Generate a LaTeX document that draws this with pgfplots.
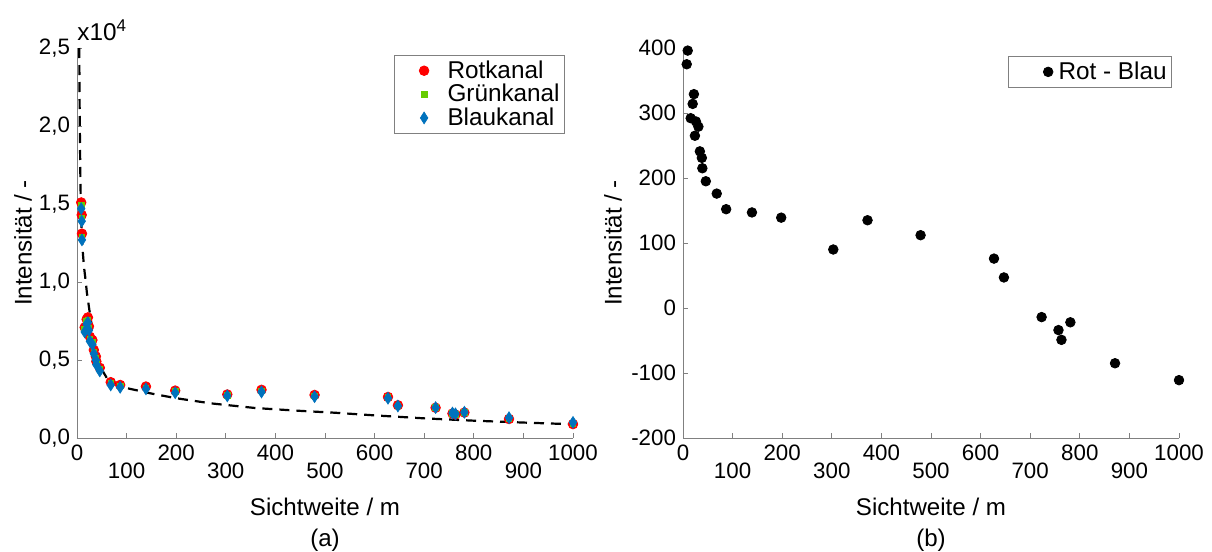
\documentclass[border=0pt]{standalone}
\usepackage{fontspec}
\setmainfont{Liberation Sans}
\usepackage{pgfplots}
\usepackage{pgfplotstable}
\pgfplotsset{compat=1.18}
\definecolor{cred}{RGB}{255,0,0}
\definecolor{cgreen}{RGB}{102,204,0}
\definecolor{cblue}{RGB}{0,114,189}
\definecolor{axgray}{RGB}{128,128,128}

\pgfplotstableread{
x R G B
8.5 15100 14900 14700
9.5 14300 14100 13900
10 13100 12900 12700
15.5 7090 6950 6800
19.5 7610 7460 7300
22 7730 7560 7400
24 7160 7030 6900
26 6490 6340 6200
31 6280 6140 6000
34 5640 5520 5400
38 5230 5120 5000
39 4910 4810 4700
46 4500 4400 4300
68 3580 3490 3400
87 3400 3330 3250
139 3300 3220 3150
198 3040 2970 2900
303 2790 2750 2700
372 3090 3020 2950
479 2760 2710 2650
627 2630 2590 2550
647 2100 2070 2050
723 1940 1950 1950
757 1570 1580 1600
763 1500 1530 1550
781 1630 1640 1650
871 1220 1260 1300
1000 890 950 1000
}\channels

\pgfplotstableread{
x y
4.5 25000
5.5 20500
6.5 17500
7.5 15300
9 13600
11 12200
14 11000
17 10200
20 9300
25 8200
33 6500
41 5200
50 4400
60 3850
80 3450
100 3200
150 2850
200 2550
270 2220
360 1920
450 1740
520 1620
600 1450
700 1260
800 1110
900 990
1000 880
}\fitcurve

\pgfplotstableread{
x d
7.5 375
9.5 396
15.5 292
19.5 314
22 329
24 265
26 287
31 279
34 241
38 231
39 215
46 195
68 176
87 152
139 147
198 139
303 90
372 135
479 112
627 76
647 47
723 -14
757 -34
763 -49
781 -22
871 -85
1000 -111
}\diffdata

\pgfplotsset{
  myaxis/.style={
    width=248bp, height=195bp, scale only axis,
    axis x line*=bottom, axis y line*=left,
    axis line style={-, draw=axgray},
    tick style={draw=axgray, thin},
    tick align=inside, major tick length=2.5bp,
    xmin=0, xmax=1000,
    xtick={0,200,...,1000},
    extra x ticks={100,300,500,700,900},
    extra x tick style={tick label style={yshift=-9bp}},
    /pgf/number format/assume math mode=true,
    /pgf/number format/1000 sep={},
    every tick label/.append style={font=\fontsize{11.2}{13}\selectfont, text=black},
    label style={font=\fontsize{12.1}{14}\selectfont},
    xlabel={Sichtweite / m},
    xlabel style={at={(axis description cs:0.5,-0.177)}, anchor=center},
    ylabel={Intensität / -},
    legend style={draw=axgray, font=\fontsize{12.2}{12.5}\selectfont, inner sep=0.5bp, row sep=-2.5bp,
      nodes={inner sep=2bp}},
    legend cell align=left,
    clip=false,
  }
}

\begin{document}
\begin{tikzpicture}
\path[use as bounding box] (-38.5bp,-57bp) rectangle (567.5bp,219bp);

\begin{axis}[myaxis,
  at={(0,0)},
  ymin=0, ymax=25000,
  ytick={0,5000,10000,15000,20000,25000},
  yticklabels={0{,}0,0{,}5,1{,}0,1{,}5,2{,}0,2{,}5},
  scaled y ticks=false,
  ylabel style={at={(axis description cs:-0.109,0.5)}, anchor=center},
  legend style={at={(rel axis cs:0.984,0.982)}, anchor=north east},
  legend image code/.code={\path (0bp,0bp) (23.5bp,0bp); \draw[#1] plot coordinates {(14bp,0bp)};},
]
\addplot[only marks, mark=*, mark size=2.4bp, color=cred] table[x=x, y=R] {\channels};
\addlegendentry{Rotkanal}
\addplot[only marks, mark=square*, mark size=1.4bp, color=cgreen] table[x=x, y=G] {\channels};
\addlegendentry{Grünkanal}
\addplot[only marks, mark=diamond*, mark size=2.9bp, mark options={xscale=0.85}, color=cblue] table[x=x, y=B] {\channels};
\addlegendentry{Blaukanal}
\addplot[forget plot, black, line width=1.1bp, dash pattern=on 5bp off 3.5bp] table[x=x, y=y] {\fitcurve};
\node[anchor=base west, inner sep=0pt, font=\fontsize{12.2}{14}\selectfont] at ([yshift=4bp]rel axis cs:0,1) {x10\textsuperscript{4}};
\node[anchor=center, font=\fontsize{12.1}{14}\selectfont] at (axis description cs:0.5,-0.262) {(a)};
\end{axis}

\begin{axis}[myaxis,
  at={(303bp,0)},
  ymin=-200, ymax=400,
  ytick={-200,-100,...,400},
  ylabel style={at={(axis description cs:-0.141,0.5)}, anchor=center},
  legend style={at={(rel axis cs:0.986,0.979)}, anchor=north east},
  legend image code/.code={\path (0bp,0bp) (22bp,0bp); \draw[#1] plot coordinates {(19bp,0bp)};},
]
\addplot[only marks, mark=*, mark size=2.4bp, color=black] table[x=x, y=d] {\diffdata};
\addlegendentry{Rot - Blau}
\node[anchor=center, font=\fontsize{12.1}{14}\selectfont] at (axis description cs:0.5,-0.262) {(b)};
\end{axis}
\end{tikzpicture}
\end{document}
